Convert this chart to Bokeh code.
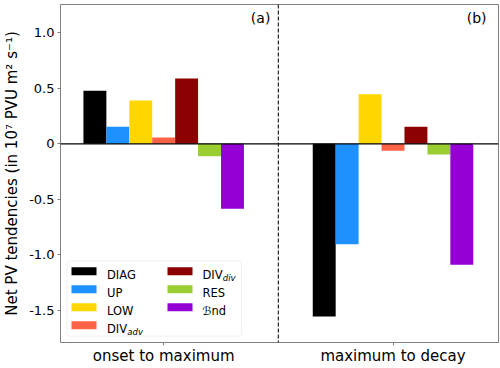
from bokeh.plotting import figure
from bokeh.models import Span, Label, BoxAnnotation, FixedTicker, Range1d
from bokeh.embed import file_html
from bokeh.resources import INLINE

# ---------------- data ----------------
periods = ["onset to maximum", "maximum to decay"]
terms = ["DIAG", "UP", "LOW", "DIV_adv", "DIV_div", "RES", "Bnd"]
colors = ["#000000", "#1E90FF", "#FFD700", "#FF6347", "#8B0000", "#9ACD32", "#9400D3"]
onset_to_max = [0.477, 0.153, 0.390, 0.057, 0.588, -0.112, -0.586]
max_to_decay = [-1.556, -0.904, 0.447, -0.063, 0.153, -0.096, -1.090]
ytick_values = [1.0, 0.5, 0.0, -0.5, -1.0, -1.5]
ytick_labels = ["1.0", "0.5", "0", "-0.5", "-1.0", "-1.5"]
legend_main = ["DIAG", "UP", "LOW", "DIV", "DIV", "RES", "\u212Cnd"]
legend_sub = ["", "", "", "adv", "div", "", ""]
panel_labels = ["(a)", "(b)"]
y_label = "Net PV tendencies (in 10\u2077 PVU m\u00b2 s\u207b\u00b9)"
bar_width = 0.1
FONT = "DejaVu Sans"
GREY = "#808080"

p = figure(width=500, height=368, output_backend="svg", toolbar_location=None,
           x_range=Range1d(-0.45, 1.46), y_range=Range1d(-1.79, 1.255),
           min_border_left=58, min_border_right=2, min_border_top=4, min_border_bottom=26)
p.grid.visible = False
p.outline_line_color = GREY
p.outline_line_width = 1
p.background_fill_color = "white"
p.border_fill_color = "white"

values = [onset_to_max, max_to_decay]
n = len(terms)
for i, (term, col) in enumerate(zip(terms, colors)):
    xs = [g + (i - (n - 1) / 2) * bar_width for g in range(len(periods))]
    tops = [values[g][i] for g in range(len(periods))]
    p.vbar(x=xs, top=tops, bottom=0, width=bar_width, fill_color=col, line_color=None)

p.add_layout(Span(location=0, dimension="width", line_color="black", line_width=1.3))
p.add_layout(Span(location=0.5, dimension="height", line_color="#222222",
                  line_width=1.2, line_dash="4 2"))

# axes
xa = p.xaxis[0]
xa.ticker = FixedTicker(ticks=list(range(len(periods))))
xa.major_label_overrides = {i: s for i, s in enumerate(periods)}
xa.major_label_text_font = FONT
xa.major_label_text_font_size = "15px"
xa.major_label_text_color = "black"
xa.major_label_standoff = 1
xa.major_tick_out = 3
xa.major_tick_in = 0
xa.minor_tick_line_color = None
xa.axis_line_color = None
xa.major_tick_line_color = GREY

ya = p.yaxis[0]
ya.ticker = FixedTicker(ticks=ytick_values)
ya.major_label_overrides = {v: s for v, s in zip(ytick_values, ytick_labels)}
ya.major_label_text_font = FONT
ya.major_label_text_font_size = "13px"
ya.major_label_text_color = "black"
ya.major_label_standoff = 3
ya.major_tick_out = 3
ya.major_tick_in = 0
ya.minor_tick_line_color = None
ya.axis_line_color = None
ya.major_tick_line_color = GREY
ya.axis_label = y_label
ya.axis_label_text_font = FONT
ya.axis_label_text_font_size = "15px"
ya.axis_label_text_font_style = "normal"
ya.axis_label_text_color = "black"
ya.axis_label_standoff = 5

# panel labels
p.add_layout(Label(x=0.5, y=1.255, x_offset=-8, y_offset=-5, text=panel_labels[0],
                   text_align="right", text_baseline="top", text_font=FONT,
                   text_font_size="14px", text_color="black"))
p.add_layout(Label(x=1.46, y=1.255, x_offset=-12, y_offset=-5, text=panel_labels[1],
                   text_align="right", text_baseline="top", text_font=FONT,
                   text_font_size="14px", text_color="black"))

# legend (screen units relative to the frame's bottom-left)
p.add_layout(BoxAnnotation(left=6.5, right=181, bottom=6.3, top=81.6,
                           left_units="screen", right_units="screen",
                           bottom_units="screen", top_units="screen",
                           fill_color="white", fill_alpha=0.85,
                           line_color="#d0d0d0", line_width=1, border_radius=3))
for k in range(n):
    col, row = k // 4, k % 4
    yc = 71.3 - row * 18
    x0 = 11 + col * 96
    p.add_layout(BoxAnnotation(left=x0, right=x0 + 25, bottom=yc - 4, top=yc + 4,
                               left_units="screen", right_units="screen",
                               bottom_units="screen", top_units="screen",
                               fill_color=colors[k], fill_alpha=1.0, line_color=None))
    tx = 46.5 + col * 95.5
    p.add_layout(Label(x=tx, y=yc - 4.2, x_units="screen", y_units="screen",
                       text=legend_main[k], text_baseline="alphabetic",
                       text_font=FONT, text_font_size="11.5px", text_color="black"))
    if legend_sub[k]:
        p.add_layout(Label(x=tx + 20.3, y=yc - 7.2, x_units="screen", y_units="screen",
                           text=legend_sub[k], text_baseline="alphabetic",
                           text_font=FONT, text_font_size="8.5px",
                           text_font_style="italic", text_color="black"))

open("out.html", "w").write(file_html(p, INLINE))
